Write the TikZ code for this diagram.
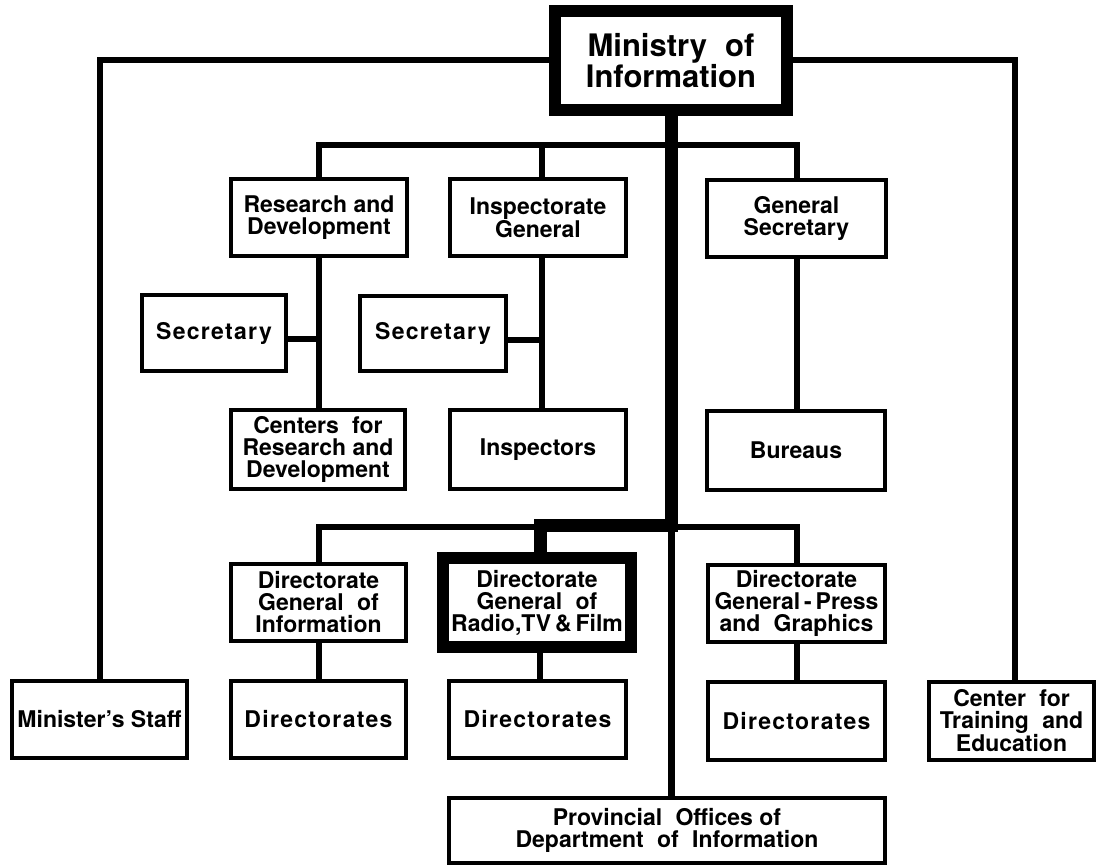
\documentclass[tikz,border=0pt]{standalone}
\usepackage{fontspec}
\setmainfont{TeX Gyre Heros}
\newcommand{\lbl}{\bfseries\fontsize{23}{22}\selectfont}
\newcommand{\lblwide}{\lbl\addfontfeatures{LetterSpace=5.5}}
\newcommand{\ttl}{\bfseries\fontsize{31}{27}\selectfont}
\newcommand{\wsp}{\hspace{0.3em}}
\begin{document}
\begin{tikzpicture}[x=1pt,y=-1pt,
  box/.style={draw, line width=3.5pt, inner sep=0pt, align=center, font=\lbl,
              minimum width=176pt, minimum height=77pt},
  widebox/.style={box, font=\lblwide},
  heavybox/.style={box, line width=12pt},
  conn/.style={line width=6pt},
  trunk/.style={line width=13pt, line join=miter},
  lowtrunk/.style={line width=7pt}]
\useasboundingbox (0,0) rectangle (1096,867);

% head of the ministry
\node[heavybox, font=\ttl, minimum width=232pt, minimum height=99pt] (mini) at (671,60.5)
  {Ministry\wsp\ of\\Information};

% upper tier
\node[box] (rd) at (319,217.5) {Research and\\Development};
\node[box] (ig) at (538,217.5) {Inspectorate\\General};
\node[box, minimum width=179pt] (gs) at (796.5,218.5) {General\\Secretary};
\node[widebox, minimum width=144pt, minimum height=76pt] (sec1) at (214,333) {Secretary};
\node[widebox, minimum width=146pt, minimum height=75pt] (sec2) at (433,333.5) {Secretary};
\node[box, minimum width=174pt, minimum height=79pt] (crd) at (318,449.5)
  {Centers\wsp\ for\\Research and\\Development};
\node[box, minimum height=79pt] (insp) at (538,449.5) {Inspectors};
\node[box, minimum width=178pt, minimum height=79pt] (bur) at (796,450.5) {Bureaus};

% directorates general
\node[box, minimum width=175pt] (dgi) at (318.5,602.5)
  {Directorate\\General\wsp\ of\\Information};
\node[heavybox, minimum width=188pt, minimum height=89pt] (dgr) at (537,602.5)
  {Directorate\\General\wsp\ of\\Radio,TV\,\&\,Film};
\node[box, minimum width=177pt] (dgp) at (796.5,603.5)
  {Directorate\\General\,-\,Press\\and\wsp\ Graphics};

% bottom tier
\node[box, minimum width=175pt] (ms) at (99.5,719.5) {Minister’s Staff};
\node[widebox, minimum width=175pt] (dir1) at (318.5,719.5) {Directorates};
\node[widebox, minimum width=177pt] (dir2) at (537.5,719.5) {Directorates};
\node[widebox, minimum width=177pt, minimum height=78pt] (dir3) at (796.5,721) {Directorates};
\node[box, minimum width=165pt, minimum height=78pt] (ctr) at (1011.5,721)
  {Center\wsp\ for\\Training\wsp\ and\\Education};
\node[box, minimum width=436pt, minimum height=65pt] (prov) at (667,830.5)
  {Provincial\wsp\ Offices of\\Department\wsp\ of\wsp\ Information};

% branch points
\coordinate (up) at (671,145);
\coordinate (lo) at (671,525.5);
\coordinate (lothin) at (671,527);
\coordinate (igx) at ([xshift=4pt]ig.south);
\coordinate (igtop) at ([xshift=4pt]ig.north);
\coordinate (dgrx) at ([xshift=3pt]dgr.north);
\coordinate (dgrbot) at ([xshift=3pt]dgr.south);
\coordinate (ctrtop) at ([xshift=3.5pt]ctr.north);
\coordinate (s1) at ([yshift=-6pt]sec1.east);
\coordinate (s2) at ([yshift=-6pt]sec2.east);

% staff lines from the ministry
\draw[conn] (mini.west) -| (ms.north);
\draw[conn] (mini.east) -| (ctrtop);

% upper bar
\draw[conn] (rd.north) -- (rd.north |- up) -- (gs.north |- up) -- (gs.north);
\draw[conn] (igtop |- up) -- (igtop);
\draw[conn] (rd.south) -- (rd.south |- crd.north);
\draw[conn] (s1) -- (s1 -| rd.south);
\draw[conn] (igx) -- (igx |- insp.north);
\draw[conn] (s2) -- (s2 -| igx);
\draw[conn] (gs.south) -- (gs.south |- bur.north);

% lower bar
\draw[conn] (dgi.north) |- (lothin) -| (dgp.north);
\draw[lowtrunk] (lothin) -- (lothin |- prov.north);
\draw[trunk] (mini.south) -- (lo) -| (dgrx);

% directorates
\draw[conn] (dgi.south) -- (dgi.south |- dir1.north);
\draw[conn] (dgrbot) -- (dgrbot |- dir2.north);
\draw[conn] (dgp.south) -- (dgp.south |- dir3.north);
\end{tikzpicture}
\end{document}
